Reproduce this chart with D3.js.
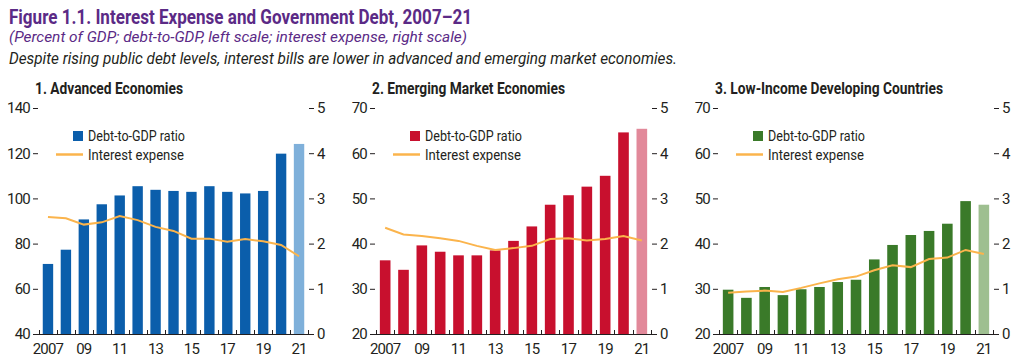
<!DOCTYPE html>
<html>
<head>
<meta charset="utf-8">
<script src="https://cdn.jsdelivr.net/npm/d3@7"></script>
<style>
  body { margin: 0; background: #fff; }
  svg { display: block; font-family: "Roboto", "Liberation Sans", sans-serif; }
</style>
</head>
<body>
<svg id="chart" width="1024" height="362"></svg>
<script>
// -- DATA --
const years = d3.range(2007, 2022);
const yearLabels = ["2007", "09", "11", "13", "15", "17", "19", "21"];

const advDebt = [71, 77.3, 90.7, 97.4, 101.3, 105.4, 103.8, 103.3, 102.9, 105.4, 102.9, 102.2, 103.3, 119.8, 124.1];
const advInterest = [2.59, 2.56, 2.42, 2.47, 2.61, 2.52, 2.37, 2.28, 2.11, 2.11, 2.04, 2.10, 2.05, 1.97, 1.72];

const emDebt = [36.3, 34.2, 39.6, 38.2, 37.4, 37.4, 38.5, 40.6, 43.8, 48.6, 50.7, 52.6, 55.0, 64.6, 65.4];
const emInterest = [2.35, 2.20, 2.17, 2.12, 2.06, 1.95, 1.86, 1.90, 1.95, 2.10, 2.12, 2.07, 2.10, 2.17, 2.07];

const lidcDebt = [29.8, 28.0, 30.4, 28.6, 29.9, 30.4, 31.5, 32.0, 36.5, 39.7, 41.9, 42.8, 44.4, 49.4, 48.6];
const lidcInterest = [0.91, 0.94, 0.96, 0.93, 1.02, 1.12, 1.21, 1.27, 1.41, 1.52, 1.48, 1.66, 1.69, 1.86, 1.77];

const leftTicksAdv = [40, 60, 80, 100, 120, 140];
const leftTicksOther = [20, 30, 40, 50, 60, 70];
const rightTicks = [0, 1, 2, 3, 4, 5];

const panels = [
    { title: "1. Advanced Economies", titleW: 148, debt: advDebt, interest: advInterest, yDomain: [40, 140], yTicks: leftTicksAdv,
      x0: 39, x1: 308, color: "#0b5eab", proj: "#7fb0da" },
    { title: "2. Emerging Market Economies", titleW: 193, debt: emDebt, interest: emInterest, yDomain: [20, 70], yTicks: leftTicksOther,
      x0: 376, x1: 651, color: "#c8102e", proj: "#e2899a" },
    { title: "3. Low-Income Developing Countries", titleW: 228, debt: lidcDebt, interest: lidcInterest, yDomain: [20, 70], yTicks: leftTicksOther,
      x0: 719, x1: 993, color: "#3a7a29", proj: "#9ebf90" }
];

const lineColor = "#fbb44c";
const textColor = "#231f20";
const purple = "#5b2a86";
const plotTop = 108, plotBottom = 334;

const svg = d3.select("#chart");

// squeeze text to look like the condensed face of the original
function fit(sel, w) {
    return sel.attr("textLength", w).attr("lengthAdjust", "spacingAndGlyphs");
}

// -- TITLES --
svg.append("text").attr("x", 9).attr("y", 24)
    .attr("font-size", 21).attr("font-weight", "bold").attr("fill", purple)
    .text("Figure 1.1. Interest Expense and Government Debt, 2007–21")
    .call(fit, 463);
svg.append("text").attr("x", 9).attr("y", 42)
    .attr("font-size", 14.5).attr("font-style", "italic").attr("fill", purple)
    .text("(Percent of GDP; debt-to-GDP, left scale; interest expense, right scale)")
    .call(fit, 458);
svg.append("text").attr("x", 9).attr("y", 64)
    .attr("font-size", 17).attr("font-style", "italic").attr("fill", textColor)
    .text("Despite rising public debt levels, interest bills are lower in advanced and emerging market economies.")
    .call(fit, 668);

panels.forEach(p => {
    const g = svg.append("g");

    const x = d3.scaleBand().domain(years).range([p.x0, p.x1]).paddingInner(0.42).paddingOuter(0.21);
    const y = d3.scaleLinear().domain(p.yDomain).range([plotBottom, plotTop]);
    const yR = d3.scaleLinear().domain([0, 5]).range([plotBottom, plotTop]);

    // panel title
    g.append("text").attr("x", p.x0 - 4).attr("y", 94)
        .attr("font-size", 16.5).attr("font-weight", "bold").attr("fill", textColor)
        .text(p.title)
        .call(fit, p.titleW);

    // bars
    g.selectAll(".bar")
        .data(years)
        .enter().append("rect")
        .attr("x", d => x(d))
        .attr("width", x.bandwidth())
        .attr("y", (d, i) => y(p.debt[i]))
        .attr("height", (d, i) => plotBottom - y(p.debt[i]))
        .attr("fill", d => d === 2021 ? p.proj : p.color);

    // interest line
    const line = d3.line()
        .x((d, i) => x(years[i]) + x.bandwidth() / 2)
        .y(d => yR(d));
    g.append("path")
        .datum(p.interest)
        .attr("d", line)
        .attr("fill", "none")
        .attr("stroke", lineColor)
        .attr("stroke-width", 2);

    // left axis
    const left = g.append("g").attr("transform", `translate(${p.x0 - 1},0)`)
        .call(d3.axisLeft(y).tickValues(p.yTicks).tickSize(5).tickPadding(3));
    left.select(".domain").remove();

    // right axis
    const right = g.append("g").attr("transform", `translate(${p.x1 + 1},0)`)
        .call(d3.axisRight(yR).tickValues(rightTicks).tickFormat(d3.format("d")).tickSize(5).tickPadding(3));
    right.select(".domain").remove();

    [left, right].forEach(a => {
        a.attr("font-family", null).attr("font-size", null);
        a.selectAll("text").attr("font-size", 15).attr("letter-spacing", -0.8).attr("fill", textColor);
        a.selectAll("line").attr("stroke", textColor);
    });

    // baseline with year ticks at band edges
    g.append("line").attr("x1", p.x0 - 3).attr("x2", p.x1 + 2)
        .attr("y1", plotBottom + 0.5).attr("y2", plotBottom + 0.5).attr("stroke", textColor);
    const edges = years.map(d => x(d) - x.step() * x.paddingInner() / 2).concat([p.x1]);
    g.selectAll(".edge")
        .data(edges)
        .enter().append("line")
        .attr("x1", d => Math.round(d) + 0.5).attr("x2", d => Math.round(d) + 0.5)
        .attr("y1", plotBottom).attr("y2", plotBottom - 4)
        .attr("stroke", textColor);

    // year labels
    g.selectAll(".yl")
        .data(yearLabels)
        .enter().append("text")
        .attr("x", (d, i) => x(years[i * 2]) + x.bandwidth() / 2)
        .attr("y", 354)
        .attr("text-anchor", "middle")
        .attr("font-size", 15)
        .attr("letter-spacing", -0.8)
        .attr("fill", textColor)
        .text(d => d);

    // legend
    const lx = p.x0 + 34;
    g.append("rect").attr("x", lx).attr("y", 131).attr("width", 10).attr("height", 10).attr("fill", p.color);
    g.append("text").attr("x", lx + 15).attr("y", 141).attr("font-size", 15).attr("fill", textColor)
        .text("Debt-to-GDP ratio").call(fit, 97);
    g.append("line").attr("x1", lx - 17).attr("x2", lx + 10).attr("y1", 154.5).attr("y2", 154.5)
        .attr("stroke", lineColor).attr("stroke-width", 2.5);
    g.append("text").attr("x", lx + 15).attr("y", 160).attr("font-size", 15).attr("fill", textColor)
        .text("Interest expense").call(fit, 96);
});
</script>
</body>
</html>
